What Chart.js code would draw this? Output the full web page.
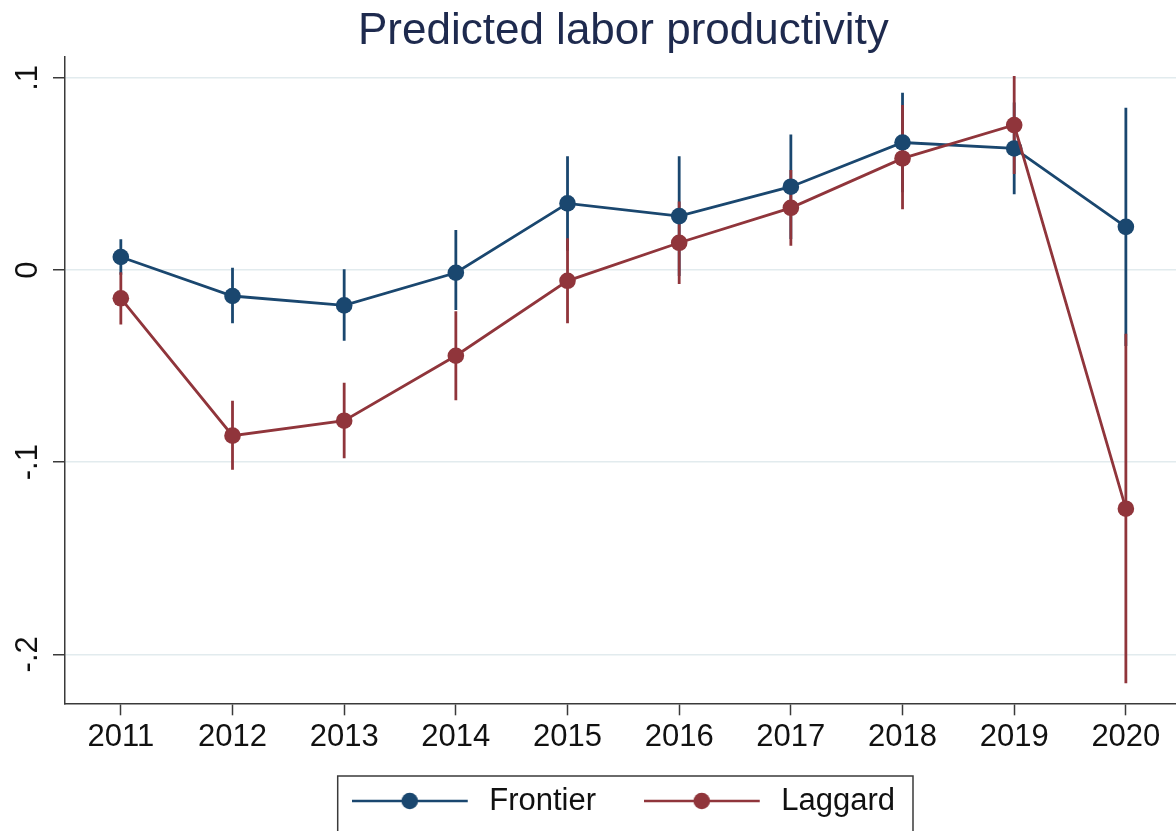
<!DOCTYPE html>
<html>
<head>
<meta charset="utf-8">
<title>Predicted labor productivity</title>
<script src="https://cdn.jsdelivr.net/npm/chart.js@4.4.1/dist/chart.umd.min.js"></script>
<style>
  html, body { margin: 0; padding: 0; background: #ffffff; overflow: hidden; }
  #wrap { position: absolute; left: 0; top: 0; width: 1190px; height: 860px; }
</style>
</head>
<body>
<div id="wrap"><canvas id="chart"></canvas></div>
<script>
// Years on the horizontal axis
const years = [2011, 2012, 2013, 2014, 2015, 2016, 2017, 2018, 2019, 2020];

// Predicted values with 95% confidence bounds
const frontier   = [0.0068, -0.0135, -0.0184, -0.0014, 0.0347, 0.0281, 0.0434, 0.0664, 0.0633, 0.0225];
const frontierLo = [-0.0024, -0.0277, -0.0368, -0.0208, 0.0101, -0.0031, 0.0162, 0.0405, 0.0394, -0.0395];
const frontierHi = [0.0160, 0.0012, 0.0004, 0.0208, 0.0593, 0.0593, 0.0706, 0.0923, 0.0872, 0.0845];

const laggard    = [-0.0147, -0.0862, -0.0784, -0.0446, -0.0056, 0.0142, 0.0324, 0.0581, 0.0755, -0.1242];
const laggardLo  = [-0.0283, -0.1040, -0.0980, -0.0677, -0.0277, -0.0073, 0.0127, 0.0316, 0.0500, -0.2151];
const laggardHi  = [-0.0011, -0.0680, -0.0586, -0.0215, 0.0165, 0.0357, 0.0521, 0.0859, 0.1010, -0.0332];

// Vertical axis ticks and their labels
const yTickValues = [-0.2, -0.1, 0, 0.1];
const yTickLabels = ['-.2', '-.1', '0', '.1'];

const NAVY = '#1a476f';
const MAROON = '#90353b';
const AXIS = '#3a3a3a';
const GRID = '#e2ebee';
const FONT = '"Liberation Sans", Arial, Helvetica, sans-serif';

Chart.defaults.font.family = FONT;
Chart.defaults.color = '#111111';

function toPoints(values) {
  return years.map((yr, i) => ({ x: yr, y: values[i] }));
}

// One vertical spike per year, separated by gaps
function spikes(lo, hi) {
  const pts = [];
  years.forEach((yr, i) => {
    pts.push({ x: yr, y: lo[i] }, { x: yr, y: hi[i] }, { x: yr, y: null });
  });
  return pts;
}

// Small line-with-marker icon for the legend keys
function legendIcon(color) {
  const c = document.createElement('canvas');
  c.width = 122; c.height = 20;
  const g = c.getContext('2d');
  g.strokeStyle = color; g.lineWidth = 2.5;
  g.beginPath(); g.moveTo(0, 10); g.lineTo(116, 10); g.stroke();
  g.fillStyle = color;
  g.beginPath(); g.arc(58, 10, 8.3, 0, Math.PI * 2); g.fill();
  return c;
}
const icons = [legendIcon(NAVY), legendIcon(MAROON)];

// Framed box around the legend
const legendFrame = {
  id: 'legendFrame',
  afterDraw(chart) {
    const lg = chart.legend;
    if (!lg || !lg.legendHitBoxes || !lg.legendHitBoxes.length) return;
    const hb = lg.legendHitBoxes;
    const first = hb[0], last = hb[hb.length - 1];
    const left = first.left - 14;
    const right = last.left + last.width + 18;
    const top = first.top - 9.5;
    const ctx = chart.ctx;
    ctx.save();
    ctx.strokeStyle = AXIS;
    ctx.lineWidth = 1.5;
    ctx.strokeRect(left, top, right - left, 90);
    ctx.restore();
  }
};

new Chart(document.getElementById('chart'), {
  type: 'line',
  data: {
    datasets: [
      {
        label: 'Frontier',
        data: toPoints(frontier),
        borderColor: NAVY,
        backgroundColor: NAVY,
        borderWidth: 2.8,
        pointRadius: 8.3,
        pointBorderWidth: 0,
        pointBackgroundColor: NAVY,
        tension: 0,
        order: 1
      },
      {
        label: 'Laggard',
        data: toPoints(laggard),
        borderColor: MAROON,
        backgroundColor: MAROON,
        borderWidth: 2.8,
        pointRadius: 8.3,
        pointBorderWidth: 0,
        pointBackgroundColor: MAROON,
        tension: 0,
        order: 0
      },
      {
        label: 'Frontier CI',
        data: spikes(frontierLo, frontierHi),
        borderColor: NAVY,
        borderWidth: 2.8,
        pointRadius: 0,
        spanGaps: false,
        order: 3
      },
      {
        label: 'Laggard CI',
        data: spikes(laggardLo, laggardHi),
        borderColor: MAROON,
        borderWidth: 2.8,
        pointRadius: 0,
        spanGaps: false,
        order: 2
      }
    ]
  },
  options: {
    responsive: true,
    maintainAspectRatio: false,
    animation: false,
    events: [],
    layout: { padding: { left: 0, right: 0, top: 0, bottom: 33.5 } },
    scales: {
      x: {
        type: 'linear',
        min: 2010.5,
        max: 2020.5,
        afterBuildTicks(axis) { axis.ticks = years.map(v => ({ value: v })); },
        afterFit(axis) { axis.height = 51.7; },
        border: { display: true, color: AXIS, width: 1.5 },
        grid: {
          drawOnChartArea: false,
          drawTicks: true,
          tickLength: 12,
          tickColor: AXIS,
          tickWidth: 1.5
        },
        ticks: {
          autoSkip: false,
          maxRotation: 0,
          padding: 7,
          color: '#111111',
          font: { size: 31, lineHeight: 1 },
          callback: v => String(v)
        }
      },
      y: {
        type: 'linear',
        min: -0.2255,
        max: 0.1109,
        afterBuildTicks(axis) { axis.ticks = yTickValues.map(v => ({ value: v })); },
        afterFit(axis) { axis.width = 65; },
        border: { display: true, color: AXIS, width: 1.5 },
        grid: {
          color: GRID,
          lineWidth: 1.5,
          drawTicks: true,
          tickLength: 12,
          tickColor: AXIS,
          tickWidth: 1.5
        },
        ticks: {
          minRotation: 90,
          maxRotation: 90,
          crossAlign: 'center',
          padding: 6,
          color: '#111111',
          font: { size: 31, lineHeight: 1 },
          callback: v => {
            const i = yTickValues.findIndex(t => Math.abs(t - v) < 1e-9);
            return i >= 0 ? yTickLabels[i] : '';
          }
        }
      }
    },
    plugins: {
      title: {
        display: true,
        text: 'Predicted labor productivity',
        color: '#1e2a4e',
        fullSize: false,
        font: { size: 44, weight: 'normal', lineHeight: 1 },
        padding: { top: 10, bottom: 3 }
      },
      legend: {
        display: true,
        position: 'bottom',
        fullSize: false,
        labels: {
          usePointStyle: true,
          pointStyleWidth: 122,
          boxHeight: 20,
          padding: 30.5,
          color: '#111111',
          font: { size: 31 },
          filter: item => item.datasetIndex < 2,
          sort: (a, b) => a.datasetIndex - b.datasetIndex,
          generateLabels(chart) {
            const items = Chart.defaults.plugins.legend.labels.generateLabels(chart);
            items.forEach(it => {
              if (it.datasetIndex < 2) it.pointStyle = icons[it.datasetIndex];
              // keep a wider gap after the first key
              if (it.datasetIndex === 0) it.text = it.text + '\u00a0\u00a0';
            });
            return items;
          }
        }
      },
      tooltip: { enabled: false }
    }
  },
  plugins: [legendFrame]
});
</script>
</body>
</html>
